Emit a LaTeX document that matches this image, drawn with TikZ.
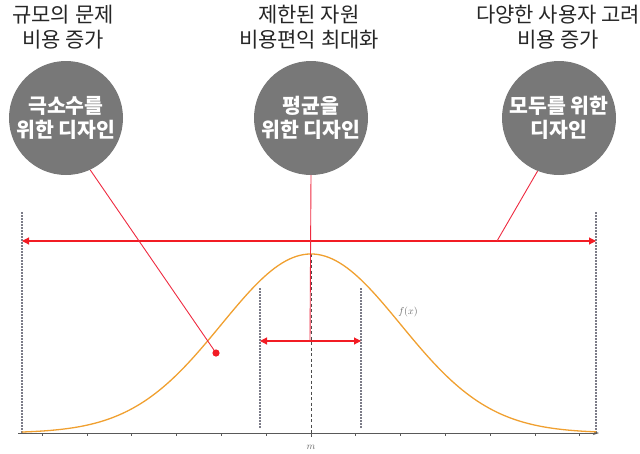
\documentclass[tikz,border=0pt]{standalone}
\usepackage{fontspec}
\newfontfamily\kr{Noto Sans CJK KR}
\usetikzlibrary{arrows.meta}
\definecolor{circ}{HTML}{787878}
\definecolor{linkred}{HTML}{EE2A40}
\definecolor{arrred}{HTML}{F21C24}
\definecolor{curveor}{HTML}{F0A030}
\definecolor{guidegray}{HTML}{7C7C88}
\begin{document}
\begin{tikzpicture}[x=1pt,y=-1pt,
  bubble/.style={circle,fill=circ,minimum size=114pt,inner sep=0pt,text=white,
    font=\kr\bfseries\fontsize{20.5}{24}\selectfont,align=center},
  toplabel/.style={font=\kr\fontsize{21}{25}\selectfont,align=center,text=black!85},
  leader/.style={draw=linkred,line width=0.9pt},
  spanarrow/.style={draw=arrred,line width=1.1pt,
    {Triangle[length=7pt,width=7pt]}-{Triangle[length=7pt,width=7pt]}},
  guide/.style={draw=guidegray,line width=1.5pt,dash pattern=on 1.5pt off 1.5pt},
  axisline/.style={draw=black!65,line width=0.9pt,-{Stealth[length=6pt,width=4pt]}},
  ticks/.style={draw=black!65,line width=0.6pt},
  smalllabel/.style={text=black!60,font=\fontsize{10}{11}\selectfont,inner sep=1pt}]
\useasboundingbox (0,0) rectangle (640,453);

% top labels
\node[toplabel] (tl) at (63,27) {규모의 문제\\비용 증가};
\node[toplabel] (tm) at (309,27) {제한된 자원\\비용편익 최대화};
\node[toplabel] (tr) at (558,27) {다양한 사용자 고려\\비용 증가};

% circles
\node[bubble] (lc) at (66,118) {극소수를\\위한 디자인};
\node[bubble] (mc) at (311,118) {평균을\\위한 디자인};
\node[bubble] (rc) at (559,118) {모두를 위한\\디자인};

% guides
\coordinate (ol1) at (22,212); \coordinate (ol2) at (22,433);
\coordinate (or1) at (596,212); \coordinate (or2) at (596,433);
\coordinate (il1) at (260,288); \coordinate (il2) at (260,429);
\coordinate (ir1) at (361,288); \coordinate (ir2) at (361,429);
\coordinate (peak) at (311,254); \coordinate (mbase) at (311,437);
\draw[guide] (ol1) -- (ol2);
\draw[guide] (or1) -- (or2);
\draw[guide] (il1) -- (il2);
\draw[guide] (ir1) -- (ir2);
\draw[draw=black!70,line width=0.6pt,dash pattern=on 3pt off 2.5pt] (peak) -- (mbase);

% axis
\coordinate (a0) at (18,433); \coordinate (a1) at (599,433);
\draw[axisline] (a0) -- (a1);
\foreach \k in {0,...,12} \draw[ticks] ({42+44.8*\k},433) -- ({42+44.8*\k},436);
\node[smalllabel] (mlab) at (311,447) {$m$};

% curve
\draw[curveor,line width=1.3pt] plot[domain=22:596,samples=160]
  (\x,{433-179*exp(-0.5*((\x-311)/89.6)^2)});
\node[smalllabel] (fx) at (408,312) {$f(x)$};

% span arrows
\coordinate (b1) at (22,241); \coordinate (b2) at (596,241);
\draw[spanarrow] (b1) -- (b2);
\coordinate (s1) at (260,341); \coordinate (s2) at (361,341);
\draw[spanarrow] (s1) -- (s2);

% leaders
\coordinate (dot) at (216,353);
\coordinate (bj) at (497,241);
\coordinate (sj) at (310,341);
\draw[leader] (lc.-65) -- (dot);
\fill[arrred] (dot) circle (3.6pt);
\draw[leader] (mc.south) -- (sj);
\draw[leader] (rc.-112) -- (bj);
\end{tikzpicture}
\end{document}
